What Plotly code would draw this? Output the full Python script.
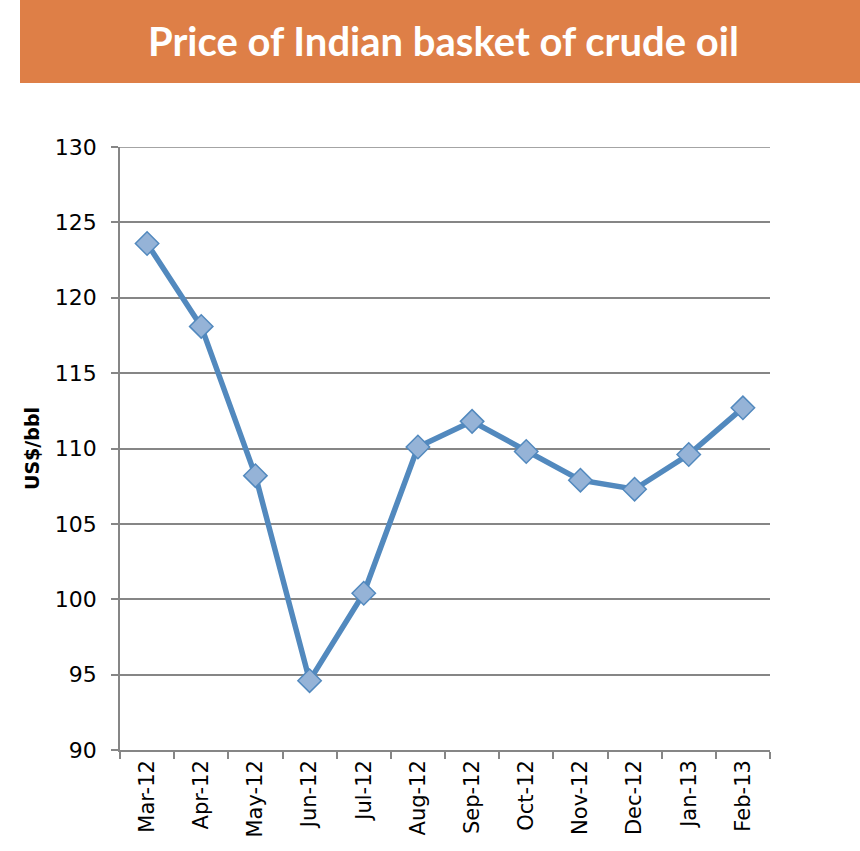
import plotly.graph_objects as go

months = ["Mar-12", "Apr-12", "May-12", "Jun-12", "Jul-12", "Aug-12",
          "Sep-12", "Oct-12", "Nov-12", "Dec-12", "Jan-13", "Feb-13"]
prices = [123.6, 118.1, 108.2, 94.6, 100.4, 110.1,
          111.8, 109.8, 107.9, 107.3, 109.6, 112.7]
y_ticks = [90, 95, 100, 105, 110, 115, 120, 125, 130]
y_min, y_max = 90, 130
title_text = "Price of Indian basket of crude oil"
y_title = "US$/bbl"

W, H = 860, 851
L, R, T, B = 120, 90, 147, 101
pw, ph = W - L - R, H - T - B

def px_x(x):
    return (x - L) / pw

def px_y(y):
    return (H - B - y) / ph

FONT = "DejaVu Sans, sans-serif"
GRID = "#868686"

fig = go.Figure()
fig.add_trace(go.Scatter(
    x=months, y=prices, mode="lines+markers",
    line=dict(color="#5289BE", width=5.5),
    marker=dict(symbol="diamond", size=18, color="#95B3D7",
                line=dict(color="#5289BE", width=1.5)),
    showlegend=False,
))

fig.update_layout(
    width=W, height=H,
    margin=dict(l=L, r=R, t=T, b=B),
    paper_bgcolor="white", plot_bgcolor="white",
    font=dict(family=FONT, color="black"),
    xaxis=dict(
        type="category", tickson="boundaries", ticks="outside", ticklen=7,
        tickcolor=GRID, tickwidth=1.5,
        showline=True, linecolor=GRID, linewidth=1.5,
        showgrid=False, tickangle=-90,
        tickfont=dict(size=21, family=FONT),
        range=[-0.5, 11.5], fixedrange=True,
    ),
    yaxis=dict(
        range=[y_min, y_max], tickvals=y_ticks, ticks="outside", ticklen=7,
        tickcolor=GRID, tickwidth=1.5,
        showline=True, linecolor=GRID, linewidth=1.5,
        showgrid=True, gridcolor=GRID, gridwidth=1.5,
        zeroline=False, ticklabelstandoff=10,
        tickfont=dict(size=22, family=FONT),
        title=dict(text="<b>" + y_title + "</b>", font=dict(size=19, family=FONT),
                   standoff=10),
    ),
    shapes=[
        dict(type="rect", xref="paper", yref="paper",
             x0=px_x(20), x1=px_x(860), y0=px_y(83), y1=px_y(0),
             fillcolor="#DE7F47", line=dict(width=0), layer="below"),
        dict(type="line", xref="paper", yref="y", x0=0, x1=1,
             y0=y_max, y1=y_max, line=dict(color=GRID, width=1.5), layer="below"),
    ],
    annotations=[dict(text="<b>" + title_text + "</b>", xref="paper", yref="paper",
                      x=px_x(443), y=px_y(41), showarrow=False,
                      xanchor="center", yanchor="middle",
                      font=dict(size=40, color="white",
                                family="Lato, DejaVu Sans, sans-serif"))],
)

fig.write_html("out.html", config={"displayModeBar": False},
               post_script="document.body.style.margin='0';document.body.style.padding='0';")
